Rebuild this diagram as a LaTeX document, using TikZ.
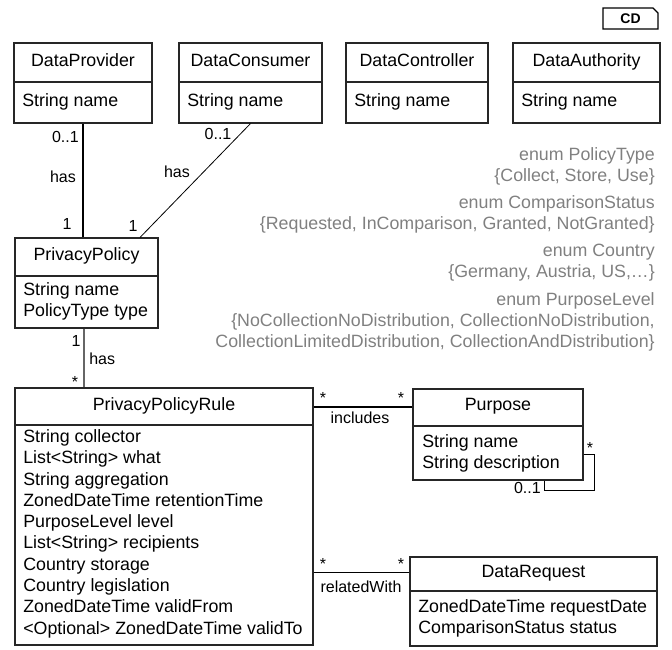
\documentclass[tikz,border=0pt]{standalone}
\usepackage{fontspec}
\setmainfont{Liberation Sans}
\usetikzlibrary{fit}

\begin{document}
\begin{tikzpicture}[x=0.75pt, y=-0.75pt,
    every node/.style={font=\fontsize{13.35}{16}\selectfont},
    box/.style={draw=black!85, line width=0.8pt, inner sep=0pt},
    txt/.style={inner sep=0pt, text height=0.72em, text depth=0.2em},
    lbl/.style={txt, font=\fontsize{12}{14}\selectfont},
    enumtxt/.style={txt, anchor=east, text=black!50}]
\useasboundingbox (0,0) rectangle (672,650);

\draw[line width=0.8pt] (603,8) -- (653,8) -- (658,13) -- (658,29) -- (603,29) -- cycle;
\node[inner sep=0pt, font=\bfseries\fontsize{10.5}{12}\selectfont] (cd) at (630.5,18.5) {CD};

\foreach \n/\l/\r/\t in {prov/14/152/DataProvider, cons/179/322/DataConsumer,
                          ctrl/346/488/DataController, auth/513/660/DataAuthority}{
    \node[box, fit={(\l,43) (\r,123)}] (\n) {};
    \draw[box] (\l,82) -- (\r,82);
    \node[txt] (\n-title) at ({(\l+\r)/2},63) {\t};
    \node[txt, anchor=west] (\n-name) at (\l+8,103) {String name};
}

\node[box, fit={(15,238) (158,328)}] (pol) {};
\draw[box] (15,276) -- (158,276);
\node[txt] (pol-title) at (86.5,257) {PrivacyPolicy};
\node[txt, anchor=west] (pol-a1) at (23,292) {String name};
\node[txt, anchor=west] (pol-a2) at (23,313) {PolicyType type};

\node[box, fit={(15,388) (313,645)}] (rule) {};
\draw[box] (15,425) -- (313,425);
\node[txt] (rule-title) at (164,407) {PrivacyPolicyRule};
\foreach \a [count=\i from 0] in {String collector, List<String> what, String aggregation,
        ZonedDateTime retentionTime, PurposeLevel level, List<String> recipients,
        Country storage, Country legislation, ZonedDateTime validFrom,
        <Optional> ZonedDateTime validTo}
    \node[txt, anchor=west] (rule-a\i) at (23,439+21.3*\i) {\a};

\node[box, fit={(413,389) (583,480)}] (purp) {};
\draw[box] (413,426) -- (583,426);
\node[txt] (purp-title) at (498,407) {Purpose};
\node[txt, anchor=west] (purp-a1) at (422,444) {String name};
\node[txt, anchor=west] (purp-a2) at (422,465) {String description};

\node[box, fit={(410,557) (657,646)}] (req) {};
\draw[box] (410,591) -- (657,591);
\node[txt] (req-title) at (533.5,574) {DataRequest};
\node[txt, anchor=west] (req-a1) at (418,609) {ZonedDateTime requestDate};
\node[txt, anchor=west] (req-a2) at (418,630) {ComparisonStatus status};

\node[enumtxt] (e1) at (655,157) {enum PolicyType};
\node[enumtxt] (e1v) at (655,178) {\{Collect, Store, Use\}};
\node[enumtxt] (e2) at (655,205) {enum ComparisonStatus};
\node[enumtxt] (e2v) at (655,226) {\{Requested, InComparison, Granted, NotGranted\}};
\node[enumtxt] (e3) at (655,253) {enum Country};
\node[enumtxt] (e3v) at (655,274) {\{Germany, Austria, US,…\}};
\node[enumtxt] (e4) at (655,302) {enum PurposeLevel};
\node[enumtxt] (e4v) at (655,323) {\{NoCollectionNoDistribution, CollectionNoDistribution,};
\node[enumtxt] (e4w) at (655,344) {CollectionLimitedDistribution, CollectionAndDistribution\}};

\draw[line width=2pt] (prov.south) -- (prov.south |- pol.north);
\node[lbl, anchor=east] at (79,139) {0..1};
\node[lbl] at (63,179) {has};
\node[lbl] at (67,226) {1};

\draw[line width=0.6pt] (cons.south) -- (140,0 |- pol.north);
\node[lbl] at (218,136) {0..1};
\node[lbl] at (177,174) {has};
\node[lbl] at (133,228) {1};

\draw[draw=black!60, line width=1.1pt] (84,0 |- pol.south) -- (84,0 |- rule.north);
\node[lbl] at (76,343) {1};
\node[lbl, anchor=west] at (89,361) {has};
\node[lbl] at (75,384) {*};

\draw[line width=1.5pt] (rule.east |- 0,407) -- (purp.west |- 0,407);
\node[lbl] at (323,400) {*};
\node[lbl] at (401,400) {*};
\node[lbl] at (360,420) {includes};

\draw[line width=0.6pt] (rule.east |- 0,572) -- (req.west |- 0,572);
\node[lbl] at (323,566) {*};
\node[lbl] at (401,566) {*};
\node[lbl] at (361,589) {relatedWith};

\draw[line width=0.6pt] (purp.east |- 0,454) -| (594,490) -| (544,0 |- purp.south);
\node[lbl] at (590,450) {*};
\node[lbl, anchor=east] at (541,490) {0..1};
\end{tikzpicture}
\end{document}
